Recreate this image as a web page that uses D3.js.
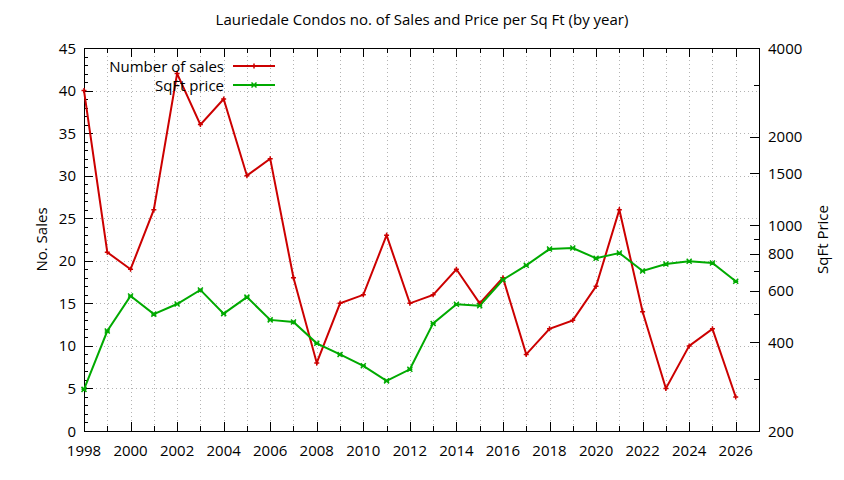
<!DOCTYPE html>
<html><head><meta charset="utf-8">
<script src="https://cdn.jsdelivr.net/npm/d3@7"></script>
<style>body{margin:0;background:#fff}svg{display:block}text{font-family:"Open Sans",sans-serif;fill:#000}</style>
</head><body><svg id="c" width="844" height="480"></svg>
<script>
const years = [1998,1999,2000,2001,2002,2003,2004,2005,2006,2007,2008,2009,2010,2011,2012,2013,2014,2015,2016,2017,2018,2019,2020,2021,2022,2023,2024,2025,2026];
const sales = [40,21,19,26,42,36,39,30,32,18,8,15,16,23,15,16,19,15,18,9,12,13,17,26,14,5,10,12,4];
const price = [277,437,575,499,540,603,501,570,477,469,397,364,333,296,324,464,539,533,653,731,830,837,772,805,699,738,754,744,645];
const xTickLabels = [1998,2000,2002,2004,2006,2008,2010,2012,2014,2016,2018,2020,2022,2024,2026];
const yTicks = [0,5,10,15,20,25,30,35,40,45];
const y2TickLabels = [200,400,600,800,1000,1500,2000,4000];
const y2MinorTicks = [300,500,700,900,3000];

const svg = d3.select("#c");
const L=84,R=759,T=48,B=431;
const x = d3.scaleLinear().domain([1998,2027]).range([L,R]);
const y = d3.scaleLinear().domain([0,45]).range([B,T]);
const y2 = d3.scaleLog().domain([200,4000]).range([B,T]);
const fs = 15;

// grid
const g = svg.append("g").attr("stroke","#a0a0a0").attr("stroke-width",0.8).attr("stroke-dasharray","1,3");
d3.range(1999,2027).forEach(v=>g.append("line").attr("x1",Math.round(x(v))+0.5).attr("x2",Math.round(x(v))+0.5).attr("y1",T).attr("y2",B));
yTicks.slice(1,-1).forEach(v=>g.append("line").attr("x1",L).attr("x2",R).attr("y1",Math.round(y(v))+0.5).attr("y2",Math.round(y(v))+0.5));

// ticks
const t = svg.append("g").attr("stroke","#000").attr("stroke-width",1);
d3.range(1998,2027).forEach(v=>{
  const len = (v%2===0)?9:5, xx=Math.round(x(v))+0.5;
  t.append("line").attr("x1",xx).attr("x2",xx).attr("y1",B).attr("y2",B-len);
  t.append("line").attr("x1",xx).attr("x2",xx).attr("y1",T).attr("y2",T+len);
});
d3.range(0,46).forEach(v=>{
  const len=(v%5===0)?9:4, yy=Math.round(y(v))+0.5;
  t.append("line").attr("x1",L).attr("x2",L+len).attr("y1",yy).attr("y2",yy);
});
y2TickLabels.concat(y2MinorTicks).forEach(v=>{
  const len = y2TickLabels.includes(v)?9:5, yy=Math.round(y2(v))+0.5;
  t.append("line").attr("x1",R).attr("x2",R-len).attr("y1",yy).attr("y2",yy);
});
// border
svg.append("rect").attr("x",L+0.5).attr("y",T+0.5).attr("width",R-L).attr("height",B-T).attr("fill","none").attr("stroke","#000");

// tick labels
xTickLabels.forEach(v=>svg.append("text").attr("x",x(v)).attr("y",B+25).attr("text-anchor","middle").attr("font-size",fs).text(v));
yTicks.forEach(v=>svg.append("text").attr("x",L-8).attr("y",y(v)+5.5).attr("text-anchor","end").attr("font-size",fs).text(v));
y2TickLabels.forEach(v=>svg.append("text").attr("x",R+9).attr("y",y2(v)+5.5).attr("text-anchor","start").attr("font-size",fs).text(v));

// titles
svg.append("text").attr("x",422).attr("y",25).attr("text-anchor","middle").attr("font-size",fs).text("Lauriedale Condos no. of Sales and Price per Sq Ft (by year)");
svg.append("text").attr("transform",`translate(47,${(T+B)/2}) rotate(-90)`).attr("text-anchor","middle").attr("font-size",fs).text("No. Sales");
svg.append("text").attr("transform",`translate(828,${(T+B)/2}) rotate(-90)`).attr("text-anchor","middle").attr("font-size",fs).text("SqFt Price");

const red="#cc0000", green="#00aa00";
function marker(sel, px, py, col, kind){
  const d = kind==="plus"
    ? `M${px-2.5},${py}L${px+2.5},${py}M${px},${py-2.5}L${px},${py+2.5}`
    : `M${px-2.5},${py-2.5}L${px+2.5},${py+2.5}M${px-2.5},${py+2.5}L${px+2.5},${py-2.5}M${px-2.5},${py}L${px+2.5},${py}`;
  sel.append("path").attr("d",d).attr("stroke",col).attr("stroke-width",1.5).attr("fill","none");
}
const idx = d3.range(years.length);
const lineS = d3.line().x(i=>x(years[i])).y(i=>y(sales[i]));
const lineP = d3.line().x(i=>x(years[i])).y(i=>y2(price[i]));
svg.append("path").attr("d",lineS(idx)).attr("fill","none").attr("stroke",red).attr("stroke-width",2);
svg.append("path").attr("d",lineP(idx)).attr("fill","none").attr("stroke",green).attr("stroke-width",2);
idx.forEach(i=>{marker(svg,x(years[i]),y(sales[i]),red,"plus");marker(svg,x(years[i]),y2(price[i]),green,"x");});

// legend
const leg=[["Number of sales",red,66,"plus"],["SqFt price",green,85,"x"]];
leg.forEach(([lab,col,ly,k])=>{
  svg.append("text").attr("x",224).attr("y",ly+5.5).attr("text-anchor","end").attr("font-size",fs).text(lab);
  svg.append("line").attr("x1",233).attr("x2",275).attr("y1",ly).attr("y2",ly).attr("stroke",col).attr("stroke-width",2);
  marker(svg,254,ly,col,k);
});
</script></body></html>
